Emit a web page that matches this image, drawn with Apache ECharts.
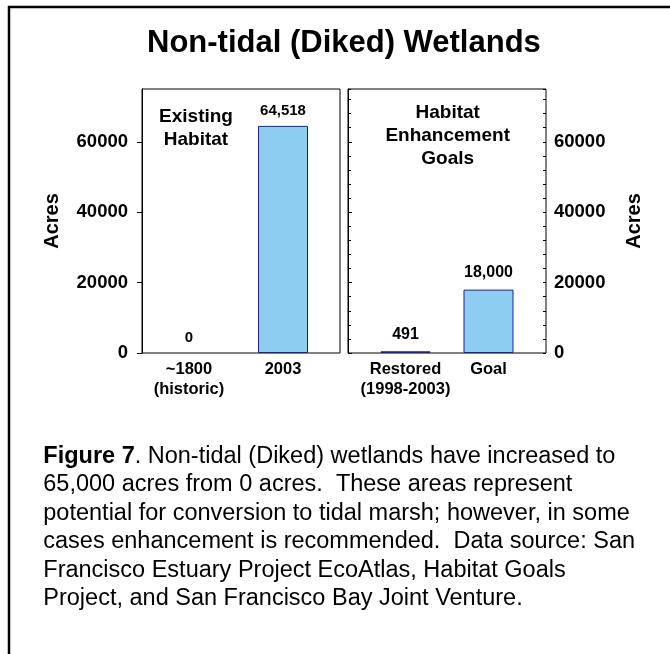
<!DOCTYPE html>
<html>
<head>
<meta charset="utf-8">
<script src="https://cdn.jsdelivr.net/npm/echarts@6/dist/echarts.min.js"></script>
<style>
  html, body { margin: 0; padding: 0; background: #fff; }
  #chart { width: 670px; height: 654px; }
</style>
</head>
<body>
<div id="chart"></div>
<script>
// ---- data ----
const existingCategories = ['~1800\n(historic)', '2003'];
const existingValues = [0, 64518];
const goalCategories = ['Restored\n(1998-2003)', 'Goal'];
const goalValues = [491, 18000];
const axisMin = 0;
const axisMax = 75000;
const majorInterval = 20000;
const minorInterval = 4000;
const chartTitle = 'Non-tidal (Diked) Wetlands';
const axisName = 'Acres';
const leftPanelNote = 'Existing\nHabitat';
const rightPanelNote = 'Habitat\nEnhancement\nGoals';
const captionLines = [
  '{b|Figure 7}. Non-tidal (Diked) wetlands have increased to',
  '65,000 acres from 0 acres.  These areas represent',
  'potential for conversion to tidal marsh; however, in some',
  'cases enhancement is recommended.  Data source: San',
  'Francisco Estuary Project EcoAtlas, Habitat Goals',
  'Project, and San Francisco Bay Joint Venture.'
];

// ---- styles ----
const FONT = '"Liberation Sans", Arial, Helvetica, sans-serif';
const barFill = '#8DCDF1';
const barBorder = '#1E1E9A';
const fmt = v => Number(v).toLocaleString('en-US');
// zero-height bars get no outline (nothing visible in the original)
const toBarData = arr => arr.map(v => v === 0 ? { value: v, itemStyle: { borderWidth: 0 } } : v);

const chart = echarts.init(document.getElementById('chart'), null, { renderer: 'canvas' });

const plotTop = 89, plotHeight = 264;

function boxGrid(left) {
  return { left: left, top: plotTop, width: 198, height: plotHeight, show: true,
           borderColor: '#000', borderWidth: 1, backgroundColor: 'transparent', containLabel: false };
}

const catAxis = (gridIndex, data) => ({
  type: 'category', gridIndex: gridIndex, data: data,
  axisLine: { show: false }, axisTick: { show: false },
  axisLabel: { fontFamily: FONT, fontWeight: 'bold', fontSize: 16.5, lineHeight: 19.5, color: '#000', margin: 7, interval: 0 }
});
const hiddenValueX = gridIndex => ({ type: 'value', gridIndex: gridIndex, show: false, min: 0, max: 1 });
const hiddenValueY = gridIndex => ({ type: 'value', gridIndex: gridIndex, show: false, min: axisMin, max: axisMax });
const yLabel = margin => ({ fontFamily: FONT, fontWeight: 'bold', fontSize: 18.5, color: '#000', margin: margin,
                            showMaxLabel: false, formatter: v => String(v) });

const option = {
  animation: false,
  backgroundColor: '#fff',
  title: {
    text: chartTitle, left: 147, top: 28, padding: 0,
    textStyle: { fontFamily: FONT, fontWeight: 'bold', fontSize: 31, color: '#000' }
  },
  grid: [
    boxGrid(142),
    { left: 142, top: plotTop, width: 188, height: plotHeight, containLabel: false },
    boxGrid(348),
    { left: 364, top: plotTop, width: 166, height: plotHeight, containLabel: false }
  ],
  xAxis: [
    hiddenValueX(0),
    catAxis(1, existingCategories),
    hiddenValueX(2),
    catAxis(3, goalCategories)
  ],
  yAxis: [
    { type: 'value', gridIndex: 0, position: 'left', min: axisMin, max: axisMax, interval: majorInterval,
      axisLine: { show: true, lineStyle: { color: '#000', width: 1 } },
      axisTick: { show: true, inside: false, length: 5, lineStyle: { color: '#000' } },
      splitLine: { show: false },
      axisLabel: yLabel(14),
      name: axisName, nameLocation: 'middle', nameRotate: 90, nameGap: 80,
      nameTextStyle: { fontFamily: FONT, fontWeight: 'bold', fontSize: 20, color: '#000' } },
    hiddenValueY(1),
    { type: 'value', gridIndex: 2, position: 'right', min: axisMin, max: axisMax, interval: majorInterval,
      axisLine: { show: true, lineStyle: { color: '#000', width: 1 } },
      axisTick: { show: true, inside: false, length: 4, lineStyle: { color: '#000' } },
      splitLine: { show: false },
      axisLabel: yLabel(8),
      name: axisName, nameLocation: 'middle', nameRotate: 90, nameGap: 78,
      nameTextStyle: { fontFamily: FONT, fontWeight: 'bold', fontSize: 20, color: '#000' } },
    { type: 'value', gridIndex: 2, position: 'right', min: axisMin, max: axisMax, interval: minorInterval,
      axisLine: { show: false }, splitLine: { show: false }, axisLabel: { show: false },
      axisTick: { show: true, inside: true, length: 3, lineStyle: { color: '#000' } } },
    { type: 'value', gridIndex: 2, position: 'left', min: axisMin, max: axisMax, interval: minorInterval,
      axisLine: { show: false }, splitLine: { show: false }, axisLabel: { show: false },
      axisTick: { show: true, inside: true, length: 3, lineStyle: { color: '#000' } } },
    hiddenValueY(3)
  ],
  series: [
    { type: 'bar', xAxisIndex: 1, yAxisIndex: 1, data: toBarData(existingValues), barWidth: 50,
      itemStyle: { color: barFill, borderColor: barBorder, borderWidth: 1 },
      label: { show: true, position: 'top', distance: 8, formatter: p => fmt(p.value),
               fontFamily: FONT, fontWeight: 'bold', fontSize: 15, color: '#000' } },
    { type: 'bar', xAxisIndex: 3, yAxisIndex: 5, data: toBarData(goalValues), barWidth: 50,
      itemStyle: { color: barFill, borderColor: barBorder, borderWidth: 1 },
      label: { show: true, position: 'top', distance: 9, formatter: p => fmt(p.value),
               fontFamily: FONT, fontWeight: 'bold', fontSize: 16, color: '#000' } }
  ],
  graphic: [
    { type: 'rect', silent: true, z: 100,
      shape: { x: 9, y: 7, width: 800, height: 800 },
      style: { fill: 'none', stroke: '#000', lineWidth: 2.5 } },
    { type: 'text', x: 196, y: 128.3, silent: true,
      style: { text: leftPanelNote, textAlign: 'center', textVerticalAlign: 'middle',
               fontFamily: FONT, fontWeight: 'bold', fontSize: 19, lineHeight: 23.3, fill: '#000' } },
    { type: 'text', x: 447.7, y: 135.8, silent: true,
      style: { text: rightPanelNote, textAlign: 'center', textVerticalAlign: 'middle',
               fontFamily: FONT, fontWeight: 'bold', fontSize: 19, lineHeight: 22.7, fill: '#000' } },
    { type: 'text', x: 43.3, y: 442.3, silent: true,
      style: { text: captionLines.join('\n'), textAlign: 'left', textVerticalAlign: 'top',
               fontFamily: FONT, fontSize: 23.5, lineHeight: 28.4, fill: '#000',
               rich: { b: { fontFamily: FONT, fontWeight: 'bold', fontSize: 23.5, lineHeight: 28.4, fill: '#000' } } } }
  ]
};

chart.setOption(option);
</script>
</body>
</html>
